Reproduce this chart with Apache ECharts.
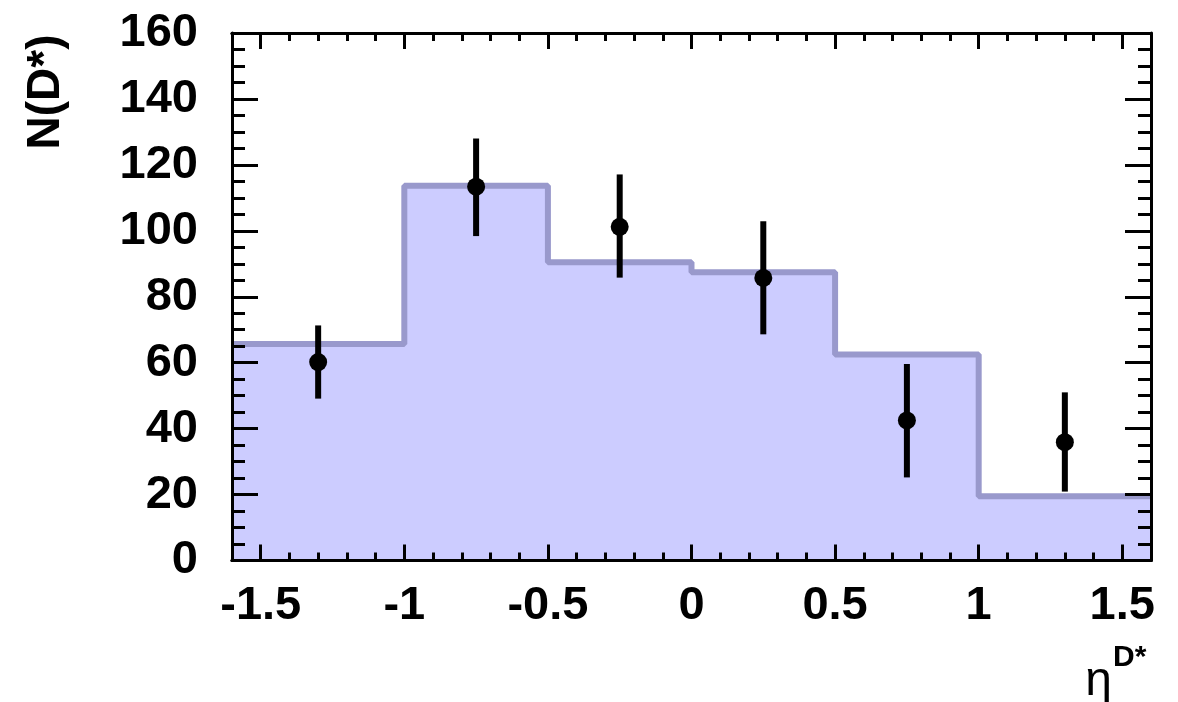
<!DOCTYPE html>
<html>
<head>
<meta charset="utf-8">
<script src="https://cdn.jsdelivr.net/npm/echarts@6/dist/echarts.min.js"></script>
<style>
html,body{margin:0;padding:0;background:#fff;}
#chart{width:1178px;height:702px;}
</style>
</head>
<body>
<div id="chart"></div>
<script>
// Histogram (MC) bin edges and contents
var binEdges = [-1.6, -1.0, -0.5, 0.0, 0.5, 1.0, 1.6];
var binValues = [65.7, 113.7, 90.5, 87.4, 62.5, 19.5];
// Data points
var pointX = [-1.3, -0.75, -0.25, 0.25, 0.75, 1.3];
var pointY = [60.2, 113.4, 101.2, 85.7, 42.5, 35.9];
var errLow = [49.1, 98.4, 85.8, 68.6, 25.2, 20.9];
var errHigh = [71.3, 128.0, 117.1, 102.9, 59.6, 51.0];
// Axis settings
var xMin = -1.6, xMax = 1.6;
var yMin = 0, yMax = 160, yStep = 20;
var xTitle = 'η', xTitleSup = 'D*';
var yTitle = 'N(D*)';

var stepData = [];
for (var i = 0; i < binValues.length; i++) stepData.push([binEdges[i], binValues[i]]);
stepData.push([binEdges[binEdges.length - 1], binValues[binValues.length - 1]]);

var pts = pointX.map(function (x, i) { return [x, pointY[i]]; });
var errs = pointX.map(function (x, i) { return [x, errLow[i], errHigh[i]]; });

var FONT = '"Liberation Sans", Arial, Helvetica, sans-serif';
var lineStyle = { color: '#000', width: 3 };
var tickStyle = { color: '#000', width: 3 };

function xAx(pos, major, labels) {
  var a = {
    type: 'value', position: pos, min: xMin, max: xMax, z: 10,
    splitLine: { show: false },
    axisLine: { show: true, onZero: false, lineStyle: lineStyle },
    axisTick: { show: true, inside: true, length: major ? 16 : 8, lineStyle: tickStyle },
    axisLabel: { show: false }
  };
  if (major) { a.splitNumber = 6; } else { a.interval = 0.1; }
  if (labels) {
    a.axisLabel = {
      show: true, showMinLabel: false, showMaxLabel: false, margin: 22,
      color: '#000', fontFamily: FONT, fontWeight: 'bold', fontSize: 47
    };
  }
  return a;
}
function yAx(pos, labels) {
  return {
    type: 'value', position: pos, min: yMin, max: yMax, interval: yStep, z: 10,
    splitLine: { show: false },
    axisLine: { show: true, onZero: false, lineStyle: lineStyle },
    axisTick: { show: true, inside: true, length: 26, lineStyle: tickStyle },
    minorTick: { show: true, splitNumber: 4, length: 13, lineStyle: tickStyle },
    axisLabel: labels ? { show: true, margin: 34, color: '#000', fontFamily: FONT, fontWeight: 'bold', fontSize: 47 } : { show: false }
  };
}

var chart = echarts.init(document.getElementById('chart'), null, { renderer: 'canvas' });
chart.setOption({
  animation: false,
  backgroundColor: '#fff',
  grid: { left: 232, right: 27, top: 33, bottom: 141.5, containLabel: false },
  xAxis: [xAx('bottom', true, true), xAx('bottom', false, false), xAx('top', true, false), xAx('top', false, false)],
  yAxis: [yAx('left', true), yAx('right', false)],
  series: [
    {
      type: 'line', step: 'end', data: stepData, showSymbol: false, symbol: 'none',
      xAxisIndex: 0, yAxisIndex: 0, z: 2,
      lineStyle: { color: '#9999cc', width: 6 },
      areaStyle: { color: '#ccccff', opacity: 1 }
    },
    {
      type: 'custom', xAxisIndex: 0, yAxisIndex: 0, z: 5, data: errs,
      renderItem: function (params, api) {
        var p1 = api.coord([api.value(0), api.value(1)]);
        var p2 = api.coord([api.value(0), api.value(2)]);
        return { type: 'line', shape: { x1: p1[0], y1: p1[1], x2: p2[0], y2: p2[1] }, style: { stroke: '#000', lineWidth: 6 } };
      }
    },
    {
      type: 'scatter', xAxisIndex: 0, yAxisIndex: 0, z: 6, data: pts,
      symbol: 'circle', symbolSize: 18, itemStyle: { color: '#000', opacity: 1 }
    }
  ],
  graphic: [
    {
      type: 'text', x: 46, y: 92, rotation: Math.PI / 2,
      style: { text: yTitle, fill: '#000', font: 'bold 46px ' + FONT, align: 'center', verticalAlign: 'middle' }
    },
    {
      type: 'text', x: 1112, y: 682,
      style: { text: xTitle, fill: '#000', font: '48px ' + FONT, align: 'right', verticalAlign: 'middle' }
    },
    {
      type: 'text', x: 1113, y: 658,
      style: { text: xTitleSup, fill: '#000', font: 'bold 30px ' + FONT, align: 'left', verticalAlign: 'middle' }
    }
  ]
});
</script>
</body>
</html>
